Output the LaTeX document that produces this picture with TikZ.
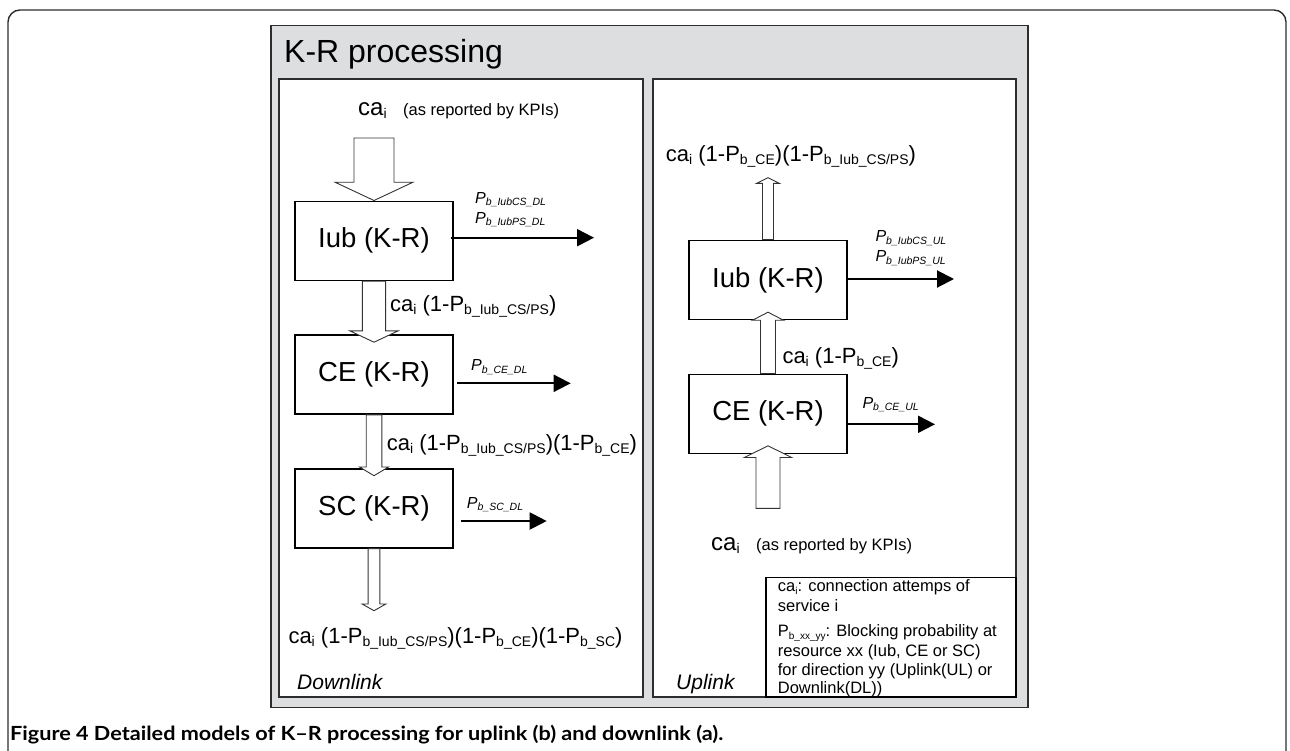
\documentclass[tikz,border=0pt]{standalone}
\usepackage{fontspec}
\setmainfont{Liberation Sans}
\newfontfamily\capfont[FakeStretch=1.11]{Lato}
\usetikzlibrary{arrows.meta,calc}
\definecolor{panelgray}{RGB}{221,222,224}
\definecolor{framegray}{RGB}{45,45,45}
\newcommand\fs[1]{\fontsize{#1}{#1}\selectfont}
\newcommand\lo[1]{\raisebox{-3pt}{\fs{14}#1}}
\newcommand\plo[1]{\raisebox{-2.5pt}{\fs{10.5}#1}}
\newcommand\glo[1]{\raisebox{-2.5pt}{\fs{10}#1}}
\newcommand\cai{ca\lo{i}}
\newcommand\downblock[5]{%
  \draw[blockarr] let \p1=(#1), \p2=(#2) in
   (\x1-#3pt,\y1) -- (\x1-#3pt,\y2+#5pt) -- (\x1-#4pt,\y2+#5pt) -- (\x1,\y2)
   -- (\x1+#4pt,\y2+#5pt) -- (\x1+#3pt,\y2+#5pt) -- (\x1+#3pt,\y1) -- cycle;}
\newcommand\upblock[5]{%
  \draw[blockarr] let \p1=(#1), \p2=(#2) in
   (\x1-#3pt,\y1) -- (\x1-#3pt,\y2-#5pt) -- (\x1-#4pt,\y2-#5pt) -- (\x1,\y2)
   -- (\x1+#4pt,\y2-#5pt) -- (\x1+#3pt,\y2-#5pt) -- (\x1+#3pt,\y1) -- cycle;}
\begin{document}
\begin{tikzpicture}[x=1pt,y=-1pt,
  box/.style={draw=black,line width=1.6pt,minimum width=158pt,minimum height=79pt,inner sep=0pt,font=\fs{27.5}},
  lbl/.style={anchor=base west,inner sep=0pt},
  midlbl/.style={lbl,font=\fs{22}},
  plbl/.style={lbl,font=\fs{16}\itshape},
  leg/.style={lbl,font=\fs{16.5}},
  blockarr/.style={draw=black!80,line width=0.9pt,fill=white},
  outarr/.style={line width=2pt,-{Triangle[length=17pt,width=17pt]}},
]
\useasboundingbox (0,0) rectangle (1290,750);
\fill[white] (0,0) rectangle (1290,750);
% outer frame
\draw[framegray,line width=1.4pt,rounded corners=12pt] (8,10) rectangle (1286,780);
% panels
\draw[framegray,line width=1.5pt,fill=panelgray] (271,25.7) rectangle (1028,707.7);
\draw[framegray,line width=1.5pt,fill=white] (279,79) rectangle (643,697);
\draw[framegray,line width=1.5pt,fill=white] (653,79) rectangle (1016,697);
\node[lbl,font=\fs{32}] (title) at (284,62.7) {K-R processing};

% ---------- Downlink ----------
\node[lbl] (dlin) at (358,115) {\fs{24}ca\lo{i}\hspace*{16.5pt}\fs{16.5}(as reported by KPIs)};
\coordinate (dlsrc) at (374,138);
\node[box] (dliub) at (374,240.8) {Iub (K-R)};
\node[box] (dlce) at (374,374.5) {CE (K-R)};
\node[box] (dlsc) at (374,508.3) {SC (K-R)};
\coordinate (dlout) at (374,610.7);

\downblock{dlsrc}{dliub.north}{20}{39}{18.3}
\downblock{dliub.south}{$(dlce.north)+(0,8)$}{11.65}{24}{11.3}
\downblock{dlce.south}{$(dlsc.north)+(0,7.7)$}{7.8}{14.5}{8.7}
\downblock{dlsc.south}{dlout}{5.85}{11.85}{6.7}

\coordinate (dle1) at (594,237.7);
\coordinate (dle2) at (570.7,383.3);
\coordinate (dle3) at (546.7,521);
\draw[outarr] ($(dliub.east)+(-3,-3.1)$) -- (dle1);
\draw[outarr] ($(dlce.east)+(3,8.8)$) -- (dle2);
\draw[outarr] ($(dlsc.east)+(7,12.7)$) -- (dle3);

\node[plbl] (dlp1) at (475,203) {P\plo{b\_IubCS\_DL}};
\node[plbl] (dlp2) at (475,223) {P\plo{b\_IubPS\_DL}};
\node[plbl] (dlp3) at (471,370.7) {P\plo{b\_CE\_DL}};
\node[plbl] (dlp4) at (466.7,508) {P\plo{b\_SC\_DL}};

\node[midlbl] (dlm1) at (390,311.7) {\cai{} (1-P\lo{b\_Iub\_CS/PS})};
\node[midlbl] (dlm2) at (386.7,450) {\cai{} (1-P\lo{b\_Iub\_CS/PS})(1-P\lo{b\_CE})};
\node[midlbl] (dlm3) at (288.3,643) {\cai{} (1-P\lo{b\_Iub\_CS/PS})(1-P\lo{b\_CE})(1-P\lo{b\_SC})};
\node[lbl,font=\fs{21}\itshape] (dlname) at (297,689) {Downlink};

% ---------- Uplink ----------
\node[midlbl] (ulm1) at (665.7,161.7) {\cai{} (1-P\lo{b\_CE})(1-P\lo{b\_Iub\_CS/PS})};
\coordinate (ulout) at (768,177.7);
\node[box] (uliub) at (768,279.9) {Iub (K-R)};
\node[box] (ulce) at (768,413.8) {CE (K-R)};
\coordinate (ulsrc) at (768,508.3);

\upblock{uliub.north}{ulout}{5.5}{11.3}{5.6}
\upblock{ulce.north}{$(uliub.south)+(0,-8)$}{7.5}{15.5}{8}
\upblock{ulsrc}{$(ulce.south)+(0,-8.3)$}{12}{23.7}{11.7}

\coordinate (ule1) at (954,279);
\coordinate (ule2) at (935,424.3);
\draw[outarr] ($(uliub.east)+(0,-0.9)$) -- (ule1);
\draw[outarr] ($(ulce.east)+(0,10.5)$) -- (ule2);

\node[plbl] (ulp1) at (875.3,241.7) {P\plo{b\_IubCS\_UL}};
\node[plbl] (ulp2) at (875.3,261.7) {P\plo{b\_IubPS\_UL}};
\node[plbl] (ulp3) at (862.3,408.3) {P\plo{b\_CE\_UL}};

\node[midlbl] (ulm2) at (782.3,363.3) {\cai{} (1-P\lo{b\_CE})};
\node[lbl] (ulin) at (711,550) {\fs{24}ca\lo{i}\hspace*{16.5pt}\fs{16.5}(as reported by KPIs)};
\node[lbl,font=\fs{21}\itshape] (ulname) at (676,689.3) {Uplink};

% legend
\draw[black,line width=1.3pt] (766,577.7) rectangle (1016,697);
\node[leg] (lg1) at (777.7,591.7) {ca\glo{i}: connection attemps of};
\node[leg] (lg2) at (777.7,611.7) {service i};
\node[leg] (lg3) at (777.7,636.7) {P\glo{b\_xx\_yy}: Blocking probability at};
\node[leg] (lg4) at (777.7,656) {resource xx (Iub, CE or SC)};
\node[leg] (lg5) at (777.7,675) {for direction yy (Uplink(UL) or};
\node[leg] (lg6) at (777.7,693.3) {Downlink(DL))};

% caption
\node[lbl,font=\capfont\bfseries\fs{19.5}] (cap) at (10,740) {Figure 4 Detailed models of K–R processing for uplink (b) and downlink (a).};
\end{tikzpicture}
\end{document}
